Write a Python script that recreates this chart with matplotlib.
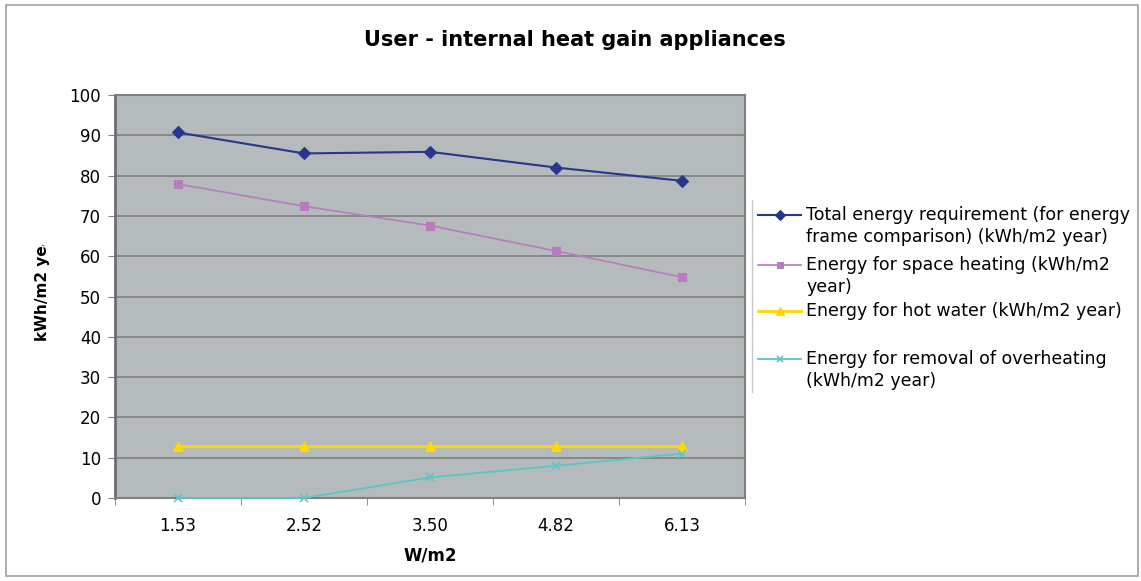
import matplotlib
matplotlib.use("Agg")
import matplotlib.pyplot as plt
from matplotlib.lines import Line2D
from matplotlib.patches import Rectangle
from matplotlib.transforms import Bbox
import numpy as np

plt.rcParams['font.family'] = ['DejaVu Sans']

# internal heat gain from appliances (W/m2)
categories = ["1.53", "2.52", "3.50", "4.82", "6.13"]
total_energy = [90.7, 85.5, 85.9, 82.0, 78.7]
space_heating = [77.9, 72.4, 67.6, 61.3, 54.8]
hot_water = [13.0, 13.0, 13.0, 13.0, 13.0]
overheating = [0.0, 0.0, 5.1, 8.0, 11.0]

series = [
    ("Total energy requirement (for energy\nframe comparison) (kWh/m2 year)", total_energy, "#26378C", "D", 6, 1.5),
    ("Energy for space heating (kWh/m2\nyear)", space_heating, "#B77BBE", "s", 6, 1.2),
    ("Energy for hot water (kWh/m2 year)", hot_water, "#FFD800", "^", 7, 2.0),
    ("Energy for removal of overheating\n(kWh/m2 year)", overheating, "#5CC6C4", "x", 6, 1.3),
]

W, H = 1141, 581
fig = plt.figure(figsize=(W / 100, H / 100), dpi=100)
fig.patches.append(Rectangle((6 / W, 5 / H), 1132 / W, 571 / H, transform=fig.transFigure,
                             fill=False, edgecolor="#A0A0A0", linewidth=1.2))

ax = fig.add_axes([115 / W, (H - 498) / H, 630 / W, 403 / H])
ax.set_facecolor("#B5BABD")

x = np.arange(len(categories))
for label, vals, color, marker, ms, lw in series:
    ax.plot(x, vals, color=color, marker=marker, markersize=ms, linewidth=lw,
            markeredgewidth=1.2 if marker == "x" else 0.8, clip_on=False, zorder=3)

ax.set_xlim(-0.5, len(categories) - 0.5)
ax.set_ylim(0, 100)
ax.set_yticks(np.arange(0, 101, 10))
ax.set_xticks(x)
ax.set_xticklabels(categories)
ax.set_xticks(np.arange(-0.5, len(categories)), minor=True)
ax.tick_params(axis="x", which="major", length=0, pad=14, labelsize=12)
ax.tick_params(axis="x", which="minor", length=5, color="#808080", direction="out")
ax.tick_params(axis="y", length=5, color="#808080", direction="out", labelsize=12, pad=5)
ax.yaxis.grid(True, color="#7E7E7E", linewidth=1.2)
ax.set_axisbelow(True)
for side in ["top", "right", "bottom"]:
    ax.spines[side].set_color("#808080")
    ax.spines[side].set_linewidth(1.5)
ax.spines["left"].set_color("#6E6E6E")
ax.spines["left"].set_linewidth(2)

ax.set_xlabel("W/m2", fontsize=12, fontweight="bold", labelpad=8)
fig.text(0.504, 1 - 40 / H, "User - internal heat gain appliances", ha="center", va="center",
         fontsize=15, fontweight="bold")

# y label box is too narrow, so the label gets cut at the top
ylab = fig.text(42 / W, 1 - 341 / H, "kWh/m2 year", rotation=90, ha="center", va="bottom",
                fontsize=11, fontweight="bold")
ylab.set_clip_box(Bbox.from_extents(0, 0, 100, H - 245))
ylab.set_clip_on(True)

# legend
fig.add_artist(Line2D([752 / W, 752 / W], [1 - 200 / H, 1 - 392 / H], transform=fig.transFigure,
                      color="#C8C8C8", linewidth=1))
legend_y = [215, 265, 311, 359]
for (label, vals, color, marker, ms, lw), ly in zip(series, legend_y):
    yf = 1 - ly / H
    fig.add_artist(Line2D([758 / W, 801 / W], [yf, yf], transform=fig.transFigure,
                          color=color, linewidth=lw))
    fig.add_artist(Line2D([779.5 / W], [yf], transform=fig.transFigure, color=color,
                          marker=marker, markersize=ms - 1,
                          markeredgewidth=1.2 if marker == "x" else 0.8))
    fig.text(806 / W, yf + 9 / H, label, ha="left", va="top", fontsize=12.5, linespacing=1.3)

fig.savefig("out.png", dpi=100)
